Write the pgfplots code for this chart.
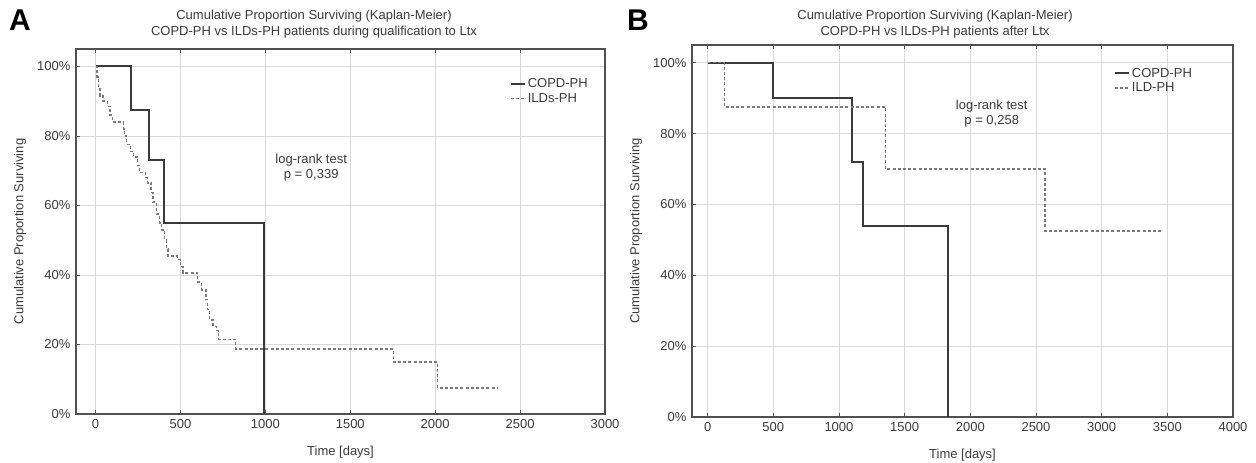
\documentclass[border=0pt]{standalone}
\usepackage{pgfplots}
\pgfplotsset{compat=1.18}
\usepackage{fontspec}
\setmainfont{Liberation Sans}
\definecolor{txt}{HTML}{3A3A3A}
\definecolor{gridc}{HTML}{D9D9D9}
\definecolor{axc}{HTML}{505050}
\definecolor{solidc}{HTML}{3A3A3A}
\definecolor{dashc}{HTML}{7A7A7A}
\pgfplotsset{kmstyle/.style={
  scale only axis,
  ymin=0, ymax=105,
  ytick={0,20,40,60,80,100},
  yticklabels={0\%,20\%,40\%,60\%,80\%,100\%},
  grid=major, major grid style={gridc, line width=0.8pt},
  axis line style={axc, line width=1.3pt},
  tick align=inside, major tick length=4pt, tick style={axc, line width=0.8pt},
  ytick pos=left,
  ticklabel style={font=\fontsize{13}{15}\selectfont, text=txt},
  yticklabel style={xshift=-2pt},
  xticklabel style={yshift=-2pt},
  xlabel={Time [days]}, ylabel={Cumulative Proportion Surviving},
  every axis x label/.style={at={(rel axis cs:0.5,0)}, yshift=-38pt, anchor=center, font=\fontsize{13}{15}\selectfont, text=txt},
  every axis y label/.style={at={(rel axis cs:0,0.5)}, xshift=-56pt, rotate=90, anchor=center, font=\fontsize{13}{15}\selectfont, text=txt},
  legend style={draw=none, fill=none, font=\fontsize{13}{15}\selectfont, text=txt, legend cell align=left, anchor=north west, row sep=0pt, inner sep=0pt},
  legend image code/.code={\draw[##1] (0pt,0pt) -- (14pt,0pt);},
  solidline/.style={solidc, line width=1.8pt, const plot, no marks},
  dashline/.style={dashc, line width=1.5pt, const plot, no marks, dash pattern=on 3pt off 2.2pt},
}}
\begin{document}
\begin{tikzpicture}
\useasboundingbox (0pt,0pt) rectangle (1256pt,463pt);
% Panel A
\begin{axis}[kmstyle, at={(76pt,49pt)}, anchor=south west, width=529pt, height=365pt,
  xmin=-115, xmax=3000, xtick={0,500,1000,1500,2000,2500,3000},
  xticklabels={0,500,1000,1500,2000,2500,3000},
  legend style={at={(rel axis cs:0.82,0.925)}}]
\addplot[solidline] coordinates {(0,100) (210,87.5) (315,73) (405,55) (990,0)};
\addlegendentry{COPD-PH}
\addplot[dashline] coordinates {
(0,100) (10,97) (18,94) (26,91.5) (45,90) (70,88.5) (85,86) (100,84) (165,82)
(172,80) (182,77.5) (205,75.5) (225,74) (248,71.5) (260,69.5) (295,68) (307,66.5)
(328,63.7) (337,61) (358,57.5) (377,55) (387,53) (407,50) (417,47.5) (426,45.5)
(484,44.4) (500,42.4) (514,40.6) (600,38) (625,35.7) (650,33) (660,30) (672,27)
(692,25.2) (712,24) (725,21.5) (825,18.75) (1755,15) (2015,7.5) (2372,7.5)};
\addlegendentry{ILDs-PH}
\node[align=center, font=\fontsize{13}{15}\selectfont, text=txt] at (axis cs:1270,70.9) {log-rank test\\p = 0,339};
\end{axis}
% Panel B
\begin{axis}[kmstyle, at={(692pt,46pt)}, anchor=south west, width=541pt, height=372pt,
  xmin=-119, xmax=4000, xtick={0,500,1000,1500,2000,2500,3000,3500,4000},
  xticklabels={0,500,1000,1500,2000,2500,3000,3500,4000},
  legend style={at={(rel axis cs:0.78,0.944)}}]
\addplot[solidline] coordinates {(0,100) (500,90) (1100,72) (1180,54) (1830,0)};
\addlegendentry{COPD-PH}
\addplot[dashline] coordinates {(0,100) (127,87.5) (1355,70) (2570,52.5) (3457,52.5)};
\addlegendentry{ILD-PH}
\node[align=center, font=\fontsize{13}{15}\selectfont, text=txt] at (axis cs:2163,85.6) {log-rank test\\p = 0,258};
\end{axis}
% titles and panel letters
\node[align=center, font=\fontsize{13}{16}\selectfont, text=txt] at (314pt,439pt) {Cumulative Proportion Surviving (Kaplan-Meier)\\COPD-PH vs ILDs-PH patients during qualification to Ltx};
\node[align=center, font=\fontsize{13}{16}\selectfont, text=txt] at (935pt,439pt) {Cumulative Proportion Surviving (Kaplan-Meier)\\COPD-PH vs ILDs-PH patients after Ltx};
\node[font=\fontsize{30}{30}\selectfont\bfseries] at (20pt,443pt) {A};
\node[font=\fontsize{30}{30}\selectfont\bfseries] at (638pt,443pt) {B};
\end{tikzpicture}
\end{document}
